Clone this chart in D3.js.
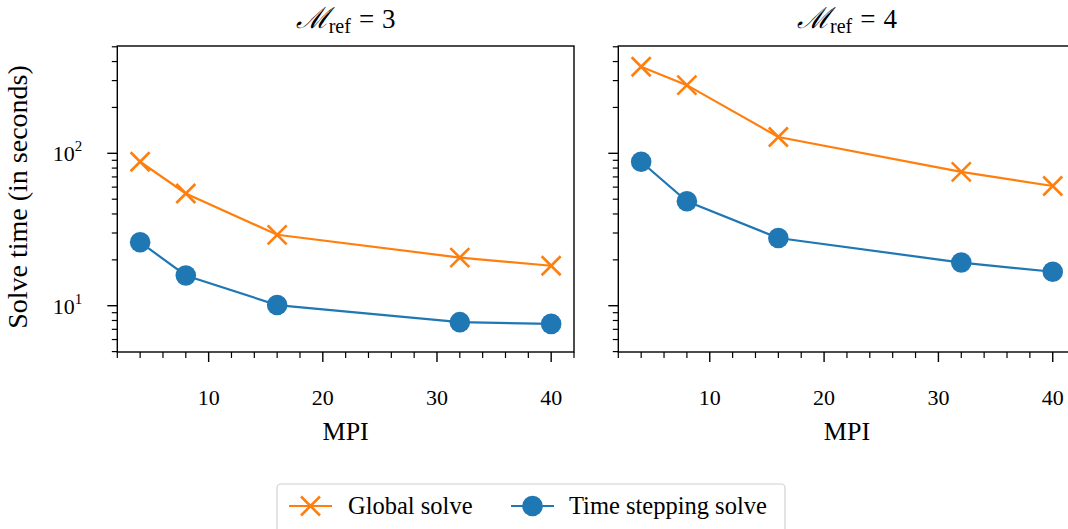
<!DOCTYPE html>
<html>
<head>
<meta charset="utf-8">
<script src="https://cdn.jsdelivr.net/npm/d3@7"></script>
<style>
  body { margin: 0; background: #fff; }
  svg { display: block; font-family: "Liberation Serif", "DejaVu Serif", serif; }
</style>
</head>
<body>
<svg width="1068" height="529"></svg>
<script>
// MPI process counts
const mpi = [4, 8, 16, 32, 40];

// Solve times (seconds), one array per panel and series
const globalRef3 = [88, 54.5, 29.2, 20.7, 18.3];
const steppingRef3 = [26.1, 15.8, 10.1, 7.8, 7.6];
const globalRef4 = [370, 280, 128, 75.5, 61];
const steppingRef4 = [88, 48.5, 27.8, 19.2, 16.7];

const refLevels = [3, 4];
const xTicks = [10, 20, 30, 40];
const seriesNames = ["Global solve", "Time stepping solve"];

const orange = "#ff7f0e";
const blue = "#1f77b4";

const svg = d3.select("svg");

const plotTop = 46, plotBottom = 352;
const panels = [
  { left: 117.3, right: 574, ref: refLevels[0], g: globalRef3, t: steppingRef3, labels: true },
  { left: 618.3, right: 1075.6, ref: refLevels[1], g: globalRef4, t: steppingRef4, labels: false }
];

const y = d3.scaleLog().domain([4.97, 506]).range([plotBottom, plotTop]);

// minor log ticks 2..9 x 10^k
const minorY = [];
for (const p of [1, 10, 100]) for (let m = 2; m <= 9; m++) {
  const v = m * p;
  if (v >= 4.97 && v <= 506) minorY.push(v);
}
const majorY = [10, 100];
const minorX = d3.range(2, 43, 2).filter(d => d % 10 !== 0);

function xMarker(g, cx, cy, s) {
  g.append("path")
    .attr("d", `M${cx - s},${cy - s}L${cx + s},${cy + s}M${cx - s},${cy + s}L${cx + s},${cy - s}`)
    .attr("stroke", orange).attr("stroke-width", 2.6).attr("fill", "none");
}

panels.forEach(p => {
  const x = d3.scaleLinear().domain([2, 42]).range([p.left, p.right]);
  const g = svg.append("g");

  // y ticks (left side only)
  g.selectAll(".ymin").data(minorY).enter().append("line")
    .attr("x1", p.left - 5.5).attr("x2", p.left)
    .attr("y1", d => y(d)).attr("y2", d => y(d))
    .attr("stroke", "#000").attr("stroke-width", 1.2);
  g.selectAll(".ymaj").data(majorY).enter().append("line")
    .attr("x1", p.left - 10).attr("x2", p.left)
    .attr("y1", d => y(d)).attr("y2", d => y(d))
    .attr("stroke", "#000").attr("stroke-width", 1.4);

  if (p.labels) {
    const yl = g.selectAll(".ylab").data(majorY).enter().append("text")
      .attr("x", p.left - 35).attr("y", d => y(d) + 8)
      .attr("text-anchor", "end").attr("font-size", 22);
    yl.append("tspan").text("10");
    yl.append("tspan").attr("dy", -10).attr("font-size", 15).text(d => Math.round(Math.log10(d)));
  }

  // x ticks
  g.selectAll(".xmin").data(minorX).enter().append("line")
    .attr("x1", d => x(d)).attr("x2", d => x(d))
    .attr("y1", plotBottom).attr("y2", plotBottom + 6)
    .attr("stroke", "#000").attr("stroke-width", 1.2);
  g.selectAll(".xmaj").data(xTicks).enter().append("line")
    .attr("x1", d => x(d)).attr("x2", d => x(d))
    .attr("y1", plotBottom).attr("y2", plotBottom + 10)
    .attr("stroke", "#000").attr("stroke-width", 1.4);
  g.selectAll(".xlab").data(xTicks).enter().append("text")
    .attr("x", d => x(d)).attr("y", 405)
    .attr("text-anchor", "middle").attr("font-size", 22)
    .text(d => d);

  g.append("text")
    .attr("x", (p.left + p.right) / 2).attr("y", 440)
    .attr("text-anchor", "middle").attr("font-size", 26)
    .text("MPI");

  // title
  const t = g.append("text")
    .attr("x", (p.left + p.right) / 2).attr("y", 28)
    .attr("text-anchor", "middle").attr("font-size", 27);
  t.append("tspan").attr("font-family", "DejaVu Serif").attr("font-style", "italic")
    .attr("font-size", 29).text("ℳ");
  t.append("tspan").attr("dy", 5).attr("font-size", 20).text("ref");
  t.append("tspan").attr("dy", -5).attr("dx", 8).text("=");
  t.append("tspan").attr("dx", 8).text(p.ref);

  // lines
  const line = d3.line().x((d, i) => x(mpi[i])).y(d => y(d));
  g.append("path").datum(p.g).attr("d", line)
    .attr("fill", "none").attr("stroke", orange).attr("stroke-width", 2.2);
  g.append("path").datum(p.t).attr("d", line)
    .attr("fill", "none").attr("stroke", blue).attr("stroke-width", 2.2);

  p.g.forEach((v, i) => xMarker(g, x(mpi[i]), y(v), 9.5));
  g.selectAll(".dot").data(p.t).enter().append("circle")
    .attr("cx", (d, i) => x(mpi[i])).attr("cy", d => y(d)).attr("r", 10.3)
    .attr("fill", blue);

  // frame
  g.append("rect")
    .attr("x", p.left).attr("y", plotTop)
    .attr("width", p.right - p.left).attr("height", plotBottom - plotTop)
    .attr("fill", "none").attr("stroke", "#000").attr("stroke-width", 1.4);
});

// y axis label
svg.append("text")
  .attr("transform", "translate(27,197) rotate(-90)")
  .attr("text-anchor", "middle").attr("font-size", 28)
  .text("Solve time (in seconds)");

// legend
const lg = svg.append("g");
lg.append("rect")
  .attr("x", 277).attr("y", 484).attr("width", 508).attr("height", 60)
  .attr("rx", 4).attr("fill", "#fff").attr("stroke", "#d0d0d0").attr("stroke-width", 1.2);
const items = [
  { name: seriesNames[0], color: orange, x0: 289, tx: 348, marker: "x" },
  { name: seriesNames[1], color: blue, x0: 511, tx: 569, marker: "o" }
];
items.forEach(it => {
  lg.append("line").attr("x1", it.x0).attr("x2", it.x0 + 43)
    .attr("y1", 506).attr("y2", 506).attr("stroke", it.color).attr("stroke-width", 2.2);
  if (it.marker === "x") xMarker(lg, it.x0 + 21.5, 506, 9.5);
  else lg.append("circle").attr("cx", it.x0 + 21.5).attr("cy", 506).attr("r", 10.3).attr("fill", it.color);
  lg.append("text").attr("x", it.tx).attr("y", 514).attr("font-size", 24.5).text(it.name);
});
</script>
</body>
</html>
